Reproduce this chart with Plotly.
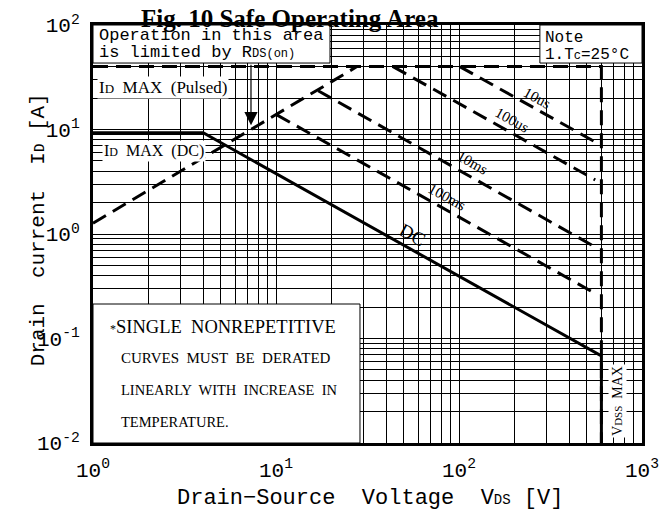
import math
import plotly.graph_objects as go

# DC limit (solid): ID max (DC) then power limit, then VDSS max
dc_v = [1, 4.0, 600, 600]
dc_i = [9.3, 9.3, 0.068, 0.01]

# ID max (pulsed) and VDSS max (dashed)
pulsed_v = [1, 600, 600]
pulsed_i = [40, 40, 0.01]

# RDS(on) limit line
rds_v = [1, 27.7]
rds_i = [1.27, 40]

# single pulse curves
pulse_names = ['10us', '100us', '10ms', '100ms']
pulse_v = [[101, 555], [43.6, 555], [17.0, 555], [10.1, 555]]
pulse_i = [[40, 7.6], [40, 3.3], [23.5, 0.75], [13.8, 0.27]]

# label spots along the curves (V, A)
label_names = ['10us', '100us', '10ms', '100ms', 'DC']
label_v = [267, 195, 119, 86, 55.3]
label_i = [20.0, 12.3, 4.78, 2.26, 0.98]

x_ticks = [1, 10, 100, 1000]
x_ticktext = ['10<sup>0</sup>', '10<sup>1</sup>', '10<sup>2</sup>', '10<sup>3</sup>']
y_ticks = [0.01, 0.1, 1, 10, 100]
y_ticktext = ['10<sup>-2</sup>', '10<sup>-1</sup>', '10<sup>0</sup>', '10<sup>1</sup>', '10<sup>2</sup>']

MONO = 'Liberation Mono'
SERIF = 'Liberation Serif'
DASH = '15px,8px'

fig = go.Figure()

fig.add_trace(go.Scatter(x=pulsed_v, y=pulsed_i, mode='lines',
                         line=dict(color='black', width=3, dash=DASH)))
fig.add_trace(go.Scatter(x=rds_v, y=rds_i, mode='lines',
                         line=dict(color='black', width=3, dash=DASH)))
for name, v, i in zip(pulse_names, pulse_v, pulse_i):
    fig.add_trace(go.Scatter(x=v, y=i, mode='lines', name=name,
                             line=dict(color='black', width=3, dash=DASH)))
fig.add_trace(go.Scatter(x=dc_v, y=dc_i, mode='lines', name='DC',
                         line=dict(color='black', width=3)))

# curve labels
for name, v, i in zip(label_names, label_v, label_i):
    fig.add_annotation(x=math.log10(v), y=math.log10(i), text=name, showarrow=False,
                       textangle=29, font=dict(family=SERIF, size=19 if name == 'DC' else 15, color='black'))

# white boxes that hide the grid
boxes = [(0, 0.4317, 0.909, 1), (0.814, 1, 0.909, 1), (0, 0.4863, 0, 0.3325)]
for x0, x1, y0, y1 in boxes:
    fig.add_shape(type='rect', xref='paper', yref='paper', x0=x0, x1=x1, y0=y0, y1=y1,
                  fillcolor='white', line=dict(color='black', width=1), layer='above')


def note(text, x, y, size, family=MONO, **kw):
    fig.add_annotation(xref='paper', yref='paper', x=x, y=y, text=text, showarrow=False,
                       xanchor=kw.pop('xanchor', 'left'), yanchor='middle',
                       font=dict(family=family, size=size, color='black'), **kw)


def small(s, size=11):
    return '<span style="font-size:%dpx">%s</span>' % (size, s)


note('Operation in this area', 0.0073, 0.9737, 17)
note('is limited by R' + small('DS(on)', 12), 0.0073, 0.9354, 17)
note('Note', 0.8197, 0.9689, 16)
note('1.T' + small('c', 12) + '=25°C', 0.8197, 0.9282, 16)
note('I' + small('D', 13) + '  MAX  (Pulsed)', 0.0073, 0.8505, 17, SERIF,
     bgcolor='white', borderpad=1)
note('I' + small('D', 12) + '  MAX  (DC)', 0.0158, 0.6986, 16, SERIF,
     bgcolor='white', borderpad=1)
note('V' + small('DSS', 11) + '  MAX', 0.9563, 0.1005, 14, SERIF,
     xanchor='center', textangle=-90, bgcolor='white', borderpad=1)

note(small('*', 12) + 'SINGLE  NONREPETITIVE', 0.0273, 0.2775, 18.5, SERIF)
note('CURVES  MUST  BE  DERATED', 0.048, 0.2033, 15, SERIF)
note('LINEARLY  WITH  INCREASE  IN', 0.048, 0.1268, 14.5, SERIF)
note('TEMPERATURE.', 0.048, 0.0502, 14.5, SERIF)

# arrow pointing to the RDS(on) line
fig.add_annotation(x=math.log10(7.3), y=math.log10(11), text='', showarrow=True,
                   ax=0, ay=-62, arrowhead=2, arrowsize=2.2, arrowwidth=1.2, arrowcolor='black')

# title and axis titles
note('<b>Fig. 10 Safe Operating Area</b>', 0.358, 1.016, 25, SERIF, xanchor='center',
     borderpad=0)
note('Drain−Source  Voltage  V' + small('DS', 14) + ' [V]', 0.505, -0.1316, 22,
     xanchor='center')
fig.add_annotation(xref='paper', yref='paper', x=-0.1239, y=0.51, showarrow=False,
                   text='Drain  current  I' + small('D', 14) + ' [A]', textangle=-90,
                   font=dict(family=MONO, size=21, color='black'))

x_minor = [d * 10 ** e for e in range(0, 3) for d in range(2, 10)]
y_minor = [d * 10.0 ** e for e in range(-2, 2) for d in range(2, 10)]

fig.update_xaxes(type='log', range=[0, 3], tickvals=x_ticks, ticktext=x_ticktext,
                 showgrid=True, gridcolor='black', gridwidth=1,
                 minor=dict(tickvals=x_minor, showgrid=True, gridcolor='black', gridwidth=1),
                 showline=True, linecolor='black', linewidth=3, mirror=True,
                 ticks='', ticklabelstandoff=6, zeroline=False, automargin=False,
                 tickfont=dict(family=MONO, size=21, color='black'))
fig.update_yaxes(type='log', range=[-2, 2], tickvals=y_ticks, ticktext=y_ticktext,
                 showgrid=True, gridcolor='black', gridwidth=1,
                 minor=dict(tickvals=y_minor, showgrid=True, gridcolor='black', gridwidth=1),
                 showline=True, linecolor='black', linewidth=3, mirror=True,
                 ticks='', ticklabelstandoff=6, zeroline=False, automargin=False,
                 tickfont=dict(family=MONO, size=21, color='black'))

# page body adds an 8px offset, so margins are shifted to keep the plot area in place
fig.update_layout(width=672, height=524, showlegend=False,
                  paper_bgcolor='white', plot_bgcolor='white',
                  margin=dict(l=85, r=38, t=17, b=89))

fig.write_html('out.html')
